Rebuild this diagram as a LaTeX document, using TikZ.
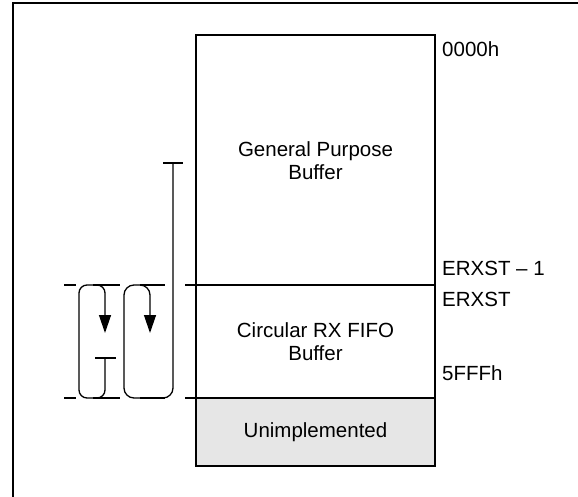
\documentclass[tikz,border=0pt]{standalone}
\usepackage{fontspec}
\setmainfont{Liberation Sans}
\usepackage{xcolor}
\usetikzlibrary{positioning,arrows.meta}

\definecolor{unimplgray}{HTML}{E6E6E6}

\tikzset{
	membox/.style={draw, line width=2pt, minimum width=239pt, inner sep=0pt, outer sep=0pt, align=center},
	addrlabel/.style={anchor=base west, inner sep=0pt},
	loopline/.style={line width=1.3pt, rounded corners=10pt},
	looptip/.style={-{Triangle[length=18pt, width=12pt]}},
}

\begin{document}
\begin{tikzpicture}[x=1pt, y=-1pt, font=\fontsize{20.5pt}{23pt}\selectfont]
		
		\useasboundingbox (0,0) rectangle (578,497);
		
		% --- 1. 外框 ---
		\draw[line width=2.2pt] (13,497) -- (13,3) -- (578,3);
		
		% --- 2. 存储区块 ---
		\node[membox, minimum height=249.5pt] (gpbuf) at (315.5,160.25) {General Purpose\\Buffer};
		\node[membox, minimum height=113pt, below=0pt of gpbuf] (rxbuf) {Circular RX FIFO\\Buffer};
		\node[membox, minimum height=68pt, fill=unimplgray, below=0pt of rxbuf] (unimpl) {Unimplemented};
		
		% --- 3. 地址标注 ---
		\node[addrlabel] (addrtop) at (442,56.5) {0000h};
		\node[addrlabel] (addrgpend) at (442,275.5) {ERXST \textendash{} 1};
		\node[addrlabel] (addrrxst) at (442,306) {ERXST};
		\node[addrlabel] (addrrxend) at (442,380) {5FFFh};
		
		% --- 4. 边界延长线 ---
		\def\rxTop{285}
		\def\rxBot{398}
		\foreach \xa/\xb in {64/76, 93/120, 140/165, 185/196} {
			\draw[line width=1.3pt] (\xa,\rxTop) -- (\xb,\rxTop);
			\draw[line width=1.3pt] (\xa,\rxBot) -- (\xb,\rxBot);
		}
		
		% --- 5. 环形指针 ---
		% 短环
		\coordinate (shortstart) at (105,358);
		\coordinate (shortend) at (105,333);
		\draw[line width=1.3pt] (95,358) -- (116,358);
		\draw[loopline, looptip, rounded corners=8pt] (shortstart) -- (105,\rxBot) -- (79,\rxBot)
			-- (79,\rxTop) -- (105,\rxTop) -- (shortend);
		
		% 长环
		\coordinate (longstart) at (173,163);
		\coordinate (longend) at (150,333);
		\draw[line width=1.3pt] (163,163) -- (183,163);
		\draw[loopline, looptip] (longstart) -- (173,\rxBot) -- (124,\rxBot)
			-- (124,\rxTop) -- (150,\rxTop) -- (longend);
		
	\end{tikzpicture}
\end{document}
